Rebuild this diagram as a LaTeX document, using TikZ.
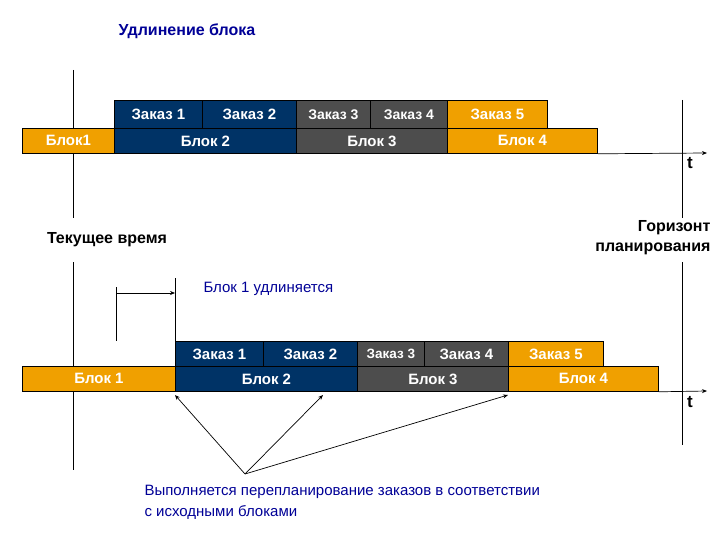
\documentclass[tikz,border=0pt]{standalone}
\usepackage{fontspec}
\setmainfont{Liberation Sans}
\usetikzlibrary{arrows.meta}
\begin{document}
\begin{tikzpicture}[x=1pt,y=-1pt,
  bx/.style={draw=black,line width=0.8pt,text=white,font=\bfseries\fontsize{15}{17}\selectfont,inner sep=0pt,anchor=north west},
  nv/.style={bx,fill=navy},gr/.style={bx,fill=dgray},orr/.style={bx,fill=orng},
  ln/.style={line width=0.7pt},
  ar/.style={ln,-{Stealth[length=5pt,width=4pt]}}]
\definecolor{navy}{RGB}{0,51,102}\definecolor{dgray}{RGB}{77,77,77}\definecolor{orng}{RGB}{240,160,0}\definecolor{tblue}{RGB}{0,0,150}
\useasboundingbox (0,0) rectangle (720,540);
% top
\draw[ln] (73,70) coordinate (v1a) -- (73,218) coordinate (v1b);
\draw[ln] (682,100) coordinate (v2a) -- (682,218) coordinate (v2b);
\node[orr,minimum width=92pt,minimum height=25pt] (a1) at (22,128) {Блок1};
\node[nv,minimum width=182pt,minimum height=25pt] (a2) at (114,128) {Блок 2};
\node[gr,minimum width=151pt,minimum height=25pt] (a3) at (296,128) {Блок 3};
\node[orr,minimum width=150pt,minimum height=25pt] (a4) at (447,128) {Блок 4};
\node[nv,minimum width=88pt,minimum height=28pt] (z1) at (114,100) {Заказ 1};
\node[nv,minimum width=94pt,minimum height=28pt] (z2) at (202,100) {Заказ 2};
\node[gr,minimum width=74pt,minimum height=28pt,font=\bfseries\fontsize{14}{17}\selectfont] (z3) at (296,100) {Заказ 3};
\node[gr,minimum width=77pt,minimum height=28pt,font=\bfseries\fontsize{14}{17}\selectfont] (z4) at (370,100) {Заказ 4};
\node[orr,minimum width=100pt,minimum height=28pt] (z5) at (447,100) {Заказ 5};
\coordinate (t1) at (707,153);
\draw[ar] (a4.south east) -- (t1);
\node[font=\bfseries\fontsize{17}{19}\selectfont] (tl1) at (690,163) {t};
\node[font=\bfseries\fontsize{16}{18}\selectfont,text=tblue] (title) at (187,31) {Удлинение блока};
\node[font=\bfseries\fontsize{16}{18}\selectfont] (cur) at (107,240) {Текущее время};
\node[font=\bfseries\fontsize{16}{20}\selectfont,align=right,anchor=east] (hor) at (714,238) {Горизонт\\планирования};
% bottom
\draw[ln] (73,262) coordinate (w1a) -- (73,470) coordinate (w1b);
\draw[ln] (682,262) coordinate (w2a) -- (682,445) coordinate (w2b);
\node[orr,minimum width=153pt,minimum height=25pt] (b1) at (22,366) {Блок 1};
\node[nv,minimum width=182pt,minimum height=25pt] (b2) at (175,366) {Блок 2};
\node[gr,minimum width=151pt,minimum height=25pt] (b3) at (357,366) {Блок 3};
\node[orr,minimum width=150pt,minimum height=25pt] (b4) at (508,366) {Блок 4};
\node[nv,minimum width=88pt,minimum height=25pt] (y1) at (175,341) {Заказ 1};
\node[nv,minimum width=94pt,minimum height=25pt] (y2) at (263,341) {Заказ 2};
\node[gr,minimum width=67pt,minimum height=25pt,font=\bfseries\fontsize{13.5}{17}\selectfont] (y3) at (357,341) {Заказ 3};
\node[gr,minimum width=84pt,minimum height=25pt] (y4) at (424,341) {Заказ 4};
\node[orr,minimum width=95pt,minimum height=25pt] (y5) at (508,341) {Заказ 5};
\coordinate (t2) at (707,391);
\draw[ar] (b4.south east) -- (t2);
\node[font=\bfseries\fontsize{17}{19}\selectfont] (tl2) at (690,402) {t};
\coordinate (m1) at (116,287); \coordinate (m2) at (116,341);
\coordinate (n1) at (175,278);
\draw[ln] (m1) -- (m2);
\draw[ln] (n1) -- (y1.north west);
\coordinate (p1) at (116,293); \coordinate (p2) at (175,293);
\draw[ar] (p1) -- (p2);
\node[font=\fontsize{15}{17}\selectfont,text=tblue,anchor=west] (ext) at (200,289) {Блок 1 удлиняется};
\coordinate (src) at (245,474);
\coordinate (e1) at (175,395); \coordinate (e2) at (323,395); \coordinate (e3) at (508,395);
\draw[ar] (src) -- (e1); \draw[ar] (src) -- (e2); \draw[ar] (src) -- (e3);
\node[font=\fontsize{15}{21}\selectfont,text=tblue,align=left,anchor=north west] (note) at (141,482) {Выполняется перепланирование заказов в соответствии\\с исходными блоками};
\end{tikzpicture}
\end{document}
